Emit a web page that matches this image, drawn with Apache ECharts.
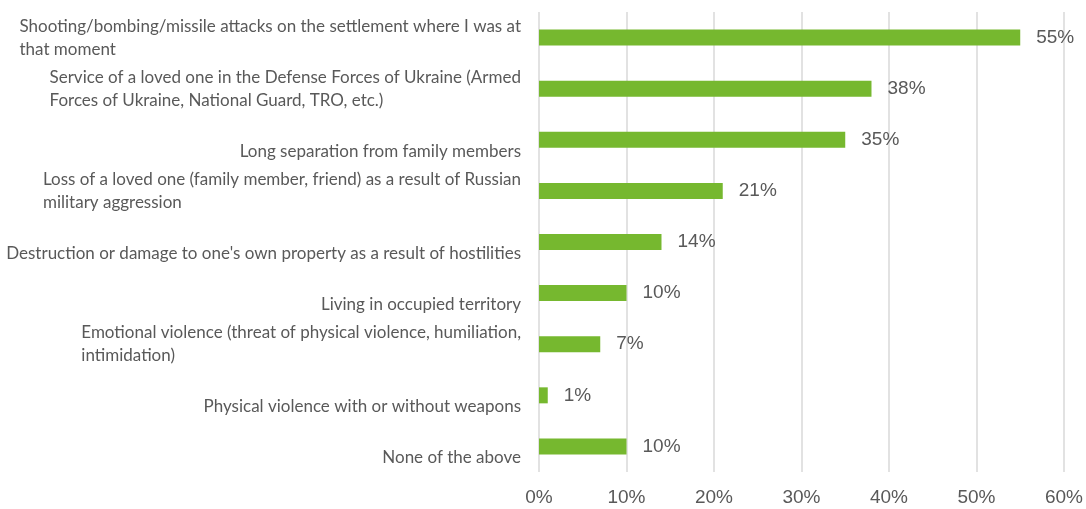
<!DOCTYPE html>
<html>
<head>
<meta charset="utf-8">
<script src="https://cdn.jsdelivr.net/npm/echarts@6/dist/echarts.min.js"></script>
<style>
  html, body { margin: 0; padding: 0; background: #ffffff; }
  #chart { width: 1086px; height: 509px; }
</style>
</head>
<body>
<div id="chart"></div>
<script>
// Experiences reported, share of respondents (%)
const categories = [
  "Shooting/bombing/missile attacks on the settlement where I was at\nthat moment",
  "Service of a loved one in the Defense Forces of Ukraine (Armed\nForces of Ukraine, National Guard, TRO, etc.)",
  "Long separation from family members",
  "Loss of a loved one (family member, friend) as a result of Russian\nmilitary aggression",
  "Destruction or damage to one's own property as a result of hostilities",
  "Living in occupied territory",
  "Emotional violence (threat of physical violence, humiliation,\nintimidation)",
  "Physical violence with or without weapons",
  "None of the above"
];
const values = [55, 38, 35, 21, 14, 10, 7, 1, 10];
const axisTicks = [0, 10, 20, 30, 40, 50, 60];

const CAT_FONT = "Lato";
const NUM_FONT = "Liberation Sans";
const TEXT = "#595959";

const chart = echarts.init(document.getElementById("chart"), null, { renderer: "canvas" });

chart.setOption({
  animation: false,
  backgroundColor: "#ffffff",
  grid: { left: 539, right: 20, top: 12, bottom: 37, containLabel: false },
  xAxis: {
    type: "value",
    min: axisTicks[0],
    max: axisTicks[axisTicks.length - 1],
    interval: 10,
    axisLine: { show: false },
    axisTick: { show: false },
    splitLine: { show: true, lineStyle: { color: "#d9d9d9", width: 1.5 } },
    axisLabel: {
      color: TEXT, fontFamily: NUM_FONT, fontSize: 19, margin: 16,
      formatter: v => v + "%"
    }
  },
  yAxis: {
    type: "category",
    inverse: true,
    data: categories,
    axisLine: { show: false },
    axisTick: { show: false },
    axisLabel: {
      margin: 18,
      color: TEXT,
      fontFamily: CAT_FONT,
      fontSize: 17,
      // single-line labels sit on the lower line of a two-line block
      formatter: v => {
        const lines = v.split("\n");
        if (lines.length === 1) lines.unshift("");
        return lines.map(l => "{t|" + l + "}").join("\n");
      },
      rich: {
        t: { align: "left", fontFamily: CAT_FONT, fontSize: 17, color: TEXT, lineHeight: 23 }
      }
    }
  },
  series: [{
    type: "bar",
    data: values,
    barWidth: 16,
    itemStyle: { color: "#76b82f" },
    label: {
      show: true,
      position: "right",
      distance: 16,
      color: TEXT,
      fontFamily: NUM_FONT,
      fontSize: 19,
      formatter: p => p.value + "%"
    }
  }]
});
</script>
</body>
</html>
